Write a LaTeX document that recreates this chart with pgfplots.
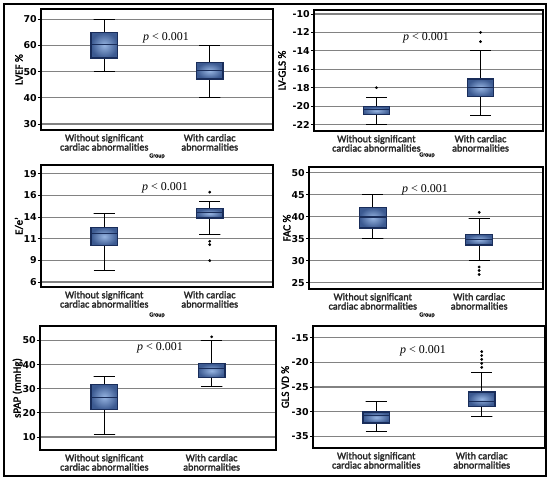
\documentclass[border=0pt]{standalone}
\usepackage{pgfplots}
\pgfplotsset{compat=1.18}
\usepackage{fontspec}
\setmainfont{Carlito}[FakeBold=2.2]
\newfontfamily\pfont{Liberation Serif}
\newfontfamily\tickf{DejaVu Sans}
\newcommand\tlf{\tickf\bfseries\fontsize{9.5}{9.5}\selectfont}
\definecolor{boxedge}{RGB}{25,45,90}
\definecolor{boxdark}{RGB}{60,90,145}
\definecolor{boxmid}{RGB}{95,125,175}
\definecolor{boxlight}{RGB}{150,180,225}
\definecolor{gridc}{RGB}{130,130,130}
\pgfplotsset{
  wh/.style={draw=black, line width=0.8bp, mark=none},
  bx/.style={draw=boxedge, line width=1.2bp, mark=none, inner color=boxlight, outer color=boxdark},
  md/.style={draw=boxedge, line width=1.2bp, mark=none},
  outl/.style={only marks, mark=*, mark size=1.2bp, mark options={fill=black, draw=black}},
  panel/.style={
    scale only axis, anchor=north west,
    xmin=0.4, xmax=2.6, xtick={1,2},
    xticklabels={{Without significant\\cardiac abnormalities},{With cardiac\\abnormalities}},
    xticklabel style={align=center, font=\fontsize{10.2}{9.3}\selectfont, text=black!85, inner sep=1bp},
    xtick style={draw=none},
    ytick pos=left,
    ymajorgrids, grid style={gridc, line width=1.2bp},
    axis line style={black, line width=1.2bp},
    tick align=outside, major tick length=3bp,
    ytick style={black, line width=0.8bp},
    yticklabel={\tlf\pgfmathprintnumber{\tick}},
    yticklabel style={inner sep=1bp, font=\tlf},
    every axis y label/.style={rotate=90, anchor=center, at={(axis description cs:-0.095,0.5)}, font=\fontsize{11}{11}\selectfont},
    /pgf/number format/assume math mode=true,
  },
}
\begin{document}
\begin{tikzpicture}
% ---------- Panel 1: LVEF ----------
\begin{axis}[panel, at={(41bp,470bp)}, width=232bp, height=121bp,
  ymin=27.7, ymax=73.9, ytick={30,40,50,60,70}, ylabel={LVEF \%}]
\addplot[wh] coordinates {(0.9,50) (1.1,50) (1,50) (1,70) (0.9,70) (1.1,70)};
\addplot[bx] coordinates {(0.875,55.2) (1.125,55.2) (1.125,64.9) (0.875,64.9)} -- cycle;
\addplot[md] coordinates {(0.875,60.2) (1.125,60.2)};
\addplot[wh] coordinates {(1.9,40) (2.1,40) (2,40) (2,60) (1.9,60) (2.1,60)};
\addplot[bx] coordinates {(1.875,47.2) (2.125,47.2) (2.125,53.4) (1.875,53.4)} -- cycle;
\addplot[md] coordinates {(1.875,50.4) (2.125,50.4)};
\end{axis}
% ---------- Panel 2: LV-GLS ----------
\begin{axis}[panel, at={(314bp,469bp)}, width=229bp, height=121bp,
  ymin=-22.7, ymax=-9.56, ytick={-22,-20,-18,-16,-14,-12,-10}, ylabel={LV-GLS \%},
  every axis y label/.append style={at={(axis description cs:-0.14,0.5)}}]
\addplot[wh] coordinates {(0.9,-22) (1.1,-22) (1,-22) (1,-19) (0.9,-19) (1.1,-19)};
\addplot[bx] coordinates {(0.875,-20.95) (1.125,-20.95) (1.125,-20.07) (0.875,-20.07)} -- cycle;
\addplot[md] coordinates {(0.875,-20.4) (1.125,-20.4)};
\addplot[outl] coordinates {(1,-18)};
\addplot[wh] coordinates {(1.9,-21) (2.1,-21) (2,-21) (2,-14) (1.9,-14) (2.1,-14)};
\addplot[bx] coordinates {(1.875,-18.95) (2.125,-18.95) (2.125,-17.05) (1.875,-17.05)} -- cycle;
\addplot[md] coordinates {(1.875,-17.96) (2.125,-17.96)};
\addplot[outl] coordinates {(2,-12) (2,-13)};
\end{axis}
% ---------- Panel 3: E/e' ----------
\begin{axis}[panel, at={(41bp,314bp)}, width=232bp, height=122bp,
  ymin=5.4, ymax=20.07, ytick={6,8.6,11.2,13.8,16.4,19},
  yticklabels={{\tlf 6},{\tlf 9},{\tlf 11},{\tlf 14},{\tlf 16},{\tlf 19}}, ylabel={E/e'}]
\addplot[wh] coordinates {(0.9,7.35) (1.1,7.35) (1,7.35) (1,14.2) (0.9,14.2) (1.1,14.2)};
\addplot[bx] coordinates {(0.875,10.36) (1.125,10.36) (1.125,12.6) (0.875,12.6)} -- cycle;
\addplot[md] coordinates {(0.875,11.87) (1.125,11.87)};
\addplot[wh] coordinates {(1.9,11.7) (2.1,11.7) (2,11.7) (2,15.7) (1.9,15.7) (2.1,15.7)};
\addplot[bx] coordinates {(1.875,13.7) (2.125,13.7) (2.125,14.8) (1.875,14.8)} -- cycle;
\addplot[md] coordinates {(1.875,14.4) (2.125,14.4)};
\addplot[outl] coordinates {(2,16.8) (2,10.9) (2,10.5) (2,8.57)};
\end{axis}
% ---------- Panel 4: FAC ----------
\begin{axis}[panel, at={(309bp,312bp)}, width=234bp, height=122bp,
  ymin=23.6, ymax=51.3, ytick={25,30,35,40,45,50}, ylabel={FAC \%}]
\addplot[wh] coordinates {(0.9,35) (1.1,35) (1,35) (1,45) (0.9,45) (1.1,45)};
\addplot[bx] coordinates {(0.875,37.46) (1.125,37.46) (1.125,42.07) (0.875,42.07)} -- cycle;
\addplot[md] coordinates {(0.875,39.95) (1.125,39.95)};
\addplot[wh] coordinates {(1.9,30) (2.1,30) (2,30) (2,39.7) (1.9,39.7) (2.1,39.7)};
\addplot[bx] coordinates {(1.875,33.6) (2.125,33.6) (2.125,36.0) (1.875,36.0)} -- cycle;
\addplot[md] coordinates {(1.875,34.8) (2.125,34.8)};
\addplot[outl] coordinates {(2,41) (2,28.6) (2,27.8) (2,26.9)};
\end{axis}
% ---------- Panel 5: sPAP ----------
\begin{axis}[panel, at={(40bp,153bp)}, width=236bp, height=124bp,
  ymin=4.6, ymax=56, ytick={10,20,30,40,50}, ylabel={sPAP (mmHg)}]
\addplot[wh] coordinates {(0.9,11.25) (1.1,11.25) (1,11.25) (1,34.9) (0.9,34.9) (1.1,34.9)};
\addplot[bx] coordinates {(0.875,21.25) (1.125,21.25) (1.125,31.8) (0.875,31.8)} -- cycle;
\addplot[md] coordinates {(0.875,26.4) (1.125,26.4)};
\addplot[wh] coordinates {(1.9,31) (2.1,31) (2,31) (2,50) (1.9,50) (2.1,50)};
\addplot[bx] coordinates {(1.875,34.6) (2.125,34.6) (2.125,40.3) (1.875,40.3)} -- cycle;
\addplot[md] coordinates {(1.875,38.3) (2.125,38.3)};
\addplot[outl] coordinates {(2,51.5)};
\end{axis}
% ---------- Panel 6: GLS VD ----------
\begin{axis}[panel, at={(313bp,153bp)}, width=232bp, height=122bp,
  ymin=-37.4, ymax=-12.6, ytick={-35,-30,-25,-20,-15}, ylabel={GLS VD \%},
  every axis y label/.append style={at={(axis description cs:-0.12,0.5)}}]
\addplot[wh] coordinates {(0.9,-34) (1.1,-34) (1,-34) (1,-28) (0.9,-28) (1.1,-28)};
\addplot[bx] coordinates {(0.875,-32.3) (1.125,-32.3) (1.125,-30.07) (0.875,-30.07)} -- cycle;
\addplot[md] coordinates {(0.875,-30.74) (1.125,-30.74)};
\addplot[wh] coordinates {(1.9,-31) (2.1,-31) (2,-31) (2,-22) (1.9,-22) (2.1,-22)};
\addplot[bx] coordinates {(1.875,-28.9) (2.125,-28.9) (2.125,-26) (1.875,-26)} -- cycle;
\addplot[md] coordinates {(1.875,-28) (2.125,-28)};
\addplot[outl] coordinates {(2,-17.8) (2,-18.6) (2,-19.4) (2,-20.2) (2,-21.0)};
\end{axis}
% ---------- annotations ----------
\foreach \px/\py in {166/38, 426/38, 165/188, 425/190, 160/348, 423/351}{
  \node[font=\pfont\fontsize{12}{12}\selectfont, inner sep=0pt] at (\px bp, 479bp-\py bp) {\textit{p} \textless{} 0.001};
}
\foreach \px/\py in {157/156, 427/155, 157/315, 427/315}{
  \node[font=\fontsize{6}{6}\selectfont, inner sep=0pt] at (\px bp, 479bp-\py bp) {Group};
}
\draw[line width=1.6bp] (4bp,3bp) rectangle (546bp,475bp);
\pgfresetboundingbox
\path (0,0) rectangle (550bp,479bp);
\end{tikzpicture}
\end{document}
